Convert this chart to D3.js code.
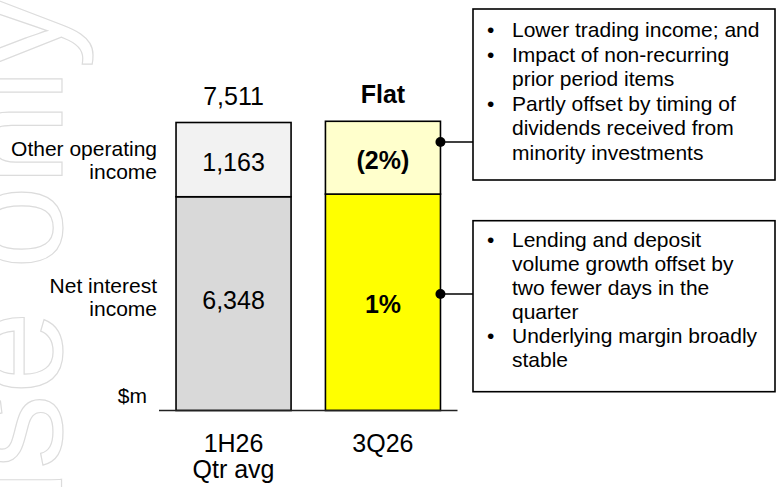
<!DOCTYPE html>
<html>
<head>
<meta charset="utf-8">
<script src="https://cdn.jsdelivr.net/npm/d3@7"></script>
<style>
  html, body { margin: 0; padding: 0; background: #fff; }
  svg text { font-family: "Liberation Sans", Arial, sans-serif; fill: #000; }
</style>
</head>
<body>
<div id="chart"></div>
<script>
// data
const categories = ['1H26', '3Q26'];
const categoryLines = [['1H26', 'Qtr avg'], ['3Q26']];
const seriesNames = [['Net interest', 'income'], ['Other operating', 'income']];
const niiValues = [6348, 6390];
const otherValues = [1163, 1140];
const niiLabels = ['6,348', '1%'];
const otherLabels = ['1,163', '(2%)'];
const totalLabels = ['7,511', 'Flat'];
const unitLabel = '$m';
const otherNotes = [
  ['Lower trading income; and'],
  ['Impact of non-recurring', 'prior period items'],
  ['Partly offset by timing of', 'dividends received from', 'minority investments'],
];
const niiNotes = [
  ['Lending and deposit', 'volume growth offset by', 'two fewer days in the', 'quarter'],
  ['Underlying margin broadly', 'stable'],
];

const W = 776;
const H = 487;
const colors = {
  nii: ['#d9d9d9', '#ffff00'],
  other: ['#f2f2f2', '#ffffcc'],
};

const svg = d3.select('#chart').append('svg')
  .attr('width', W)
  .attr('height', H);

// watermark (runs off the left edge on the slide too)
svg.append('text')
  .attr('transform', 'translate(62,-6) rotate(-90)')
  .attr('text-anchor', 'end')
  .style('font-size', '150px')
  .style('fill', '#fff')
  .style('stroke', '#dcdcdc')
  .style('stroke-width', 1.2)
  .text('use only');

const x = d3.scaleBand()
  .domain(categories)
  .range([159, 457.5])
  .paddingInner(0.23)
  .paddingOuter(0.114);

// axis is cut (does not start at zero), like the slide
const y = d3.scaleLinear()
  .domain([3000, 7511])
  .range([410.5, 122.5]);

const rows = categories.map((c, i) => ({
  cat: c,
  i,
  nii: niiValues[i],
  other: otherValues[i],
  total: niiValues[i] + otherValues[i],
}));

const g = svg.append('g');

// NII segment
g.selectAll('.nii')
  .data(rows)
  .enter().append('rect')
  .attr('class', 'nii')
  .attr('x', d => x(d.cat))
  .attr('width', x.bandwidth())
  .attr('y', d => y(d.nii))
  .attr('height', d => y(3000) - y(d.nii))
  .attr('fill', d => colors.nii[d.i])
  .attr('stroke', '#000')
  .attr('stroke-width', 1.6);

// other operating income segment
g.selectAll('.other')
  .data(rows)
  .enter().append('rect')
  .attr('class', 'other')
  .attr('x', d => x(d.cat))
  .attr('width', x.bandwidth())
  .attr('y', d => y(d.total))
  .attr('height', d => y(d.nii) - y(d.total))
  .attr('fill', d => colors.other[d.i])
  .attr('stroke', '#000')
  .attr('stroke-width', 1.6);

// base line
g.append('line')
  .attr('x1', x.range()[0])
  .attr('x2', x.range()[1])
  .attr('y1', y(3000))
  .attr('y2', y(3000))
  .attr('stroke', '#222')
  .attr('stroke-width', 1.6);

const cx = d => x(d.cat) + x.bandwidth() / 2;

// value labels
g.selectAll('.lab-other')
  .data(rows)
  .enter().append('text')
  .attr('x', cx)
  .attr('y', d => (y(d.total) + y(d.nii)) / 2 + 11)
  .attr('text-anchor', 'middle')
  .style('font-size', '25px')
  .style('font-weight', d => (d.i === 1 ? 'bold' : 'normal'))
  .text(d => otherLabels[d.i]);

g.selectAll('.lab-nii')
  .data(rows)
  .enter().append('text')
  .attr('x', cx)
  .attr('y', d => (y(d.nii) + y(3000)) / 2 + 5 + d.i * 6)
  .attr('text-anchor', 'middle')
  .style('font-size', '25px')
  .style('font-weight', d => (d.i === 1 ? 'bold' : 'normal'))
  .text(d => niiLabels[d.i]);

g.selectAll('.lab-total')
  .data(rows)
  .enter().append('text')
  .attr('x', cx)
  .attr('y', d => y(d.total) - 18)
  .attr('text-anchor', 'middle')
  .style('font-size', '25px')
  .style('font-weight', d => (d.i === 1 ? 'bold' : 'normal'))
  .text(d => totalLabels[d.i]);

// category labels
rows.forEach((d) => {
  categoryLines[d.i].forEach((t, k) => {
    g.append('text')
      .attr('x', cx(d))
      .attr('y', 452 + k * 26)
      .attr('text-anchor', 'middle')
      .style('font-size', '25px')
      .text(t);
  });
});

// series names on the left
const nameY = [y((3000 + niiValues[0]) / 2) - 11, y(niiValues[0] + otherValues[0] / 2) - 4];
seriesNames.forEach((lines, s) => {
  lines.forEach((t, k) => {
    g.append('text')
      .attr('x', 157)
      .attr('y', nameY[s] + k * 23.5)
      .attr('text-anchor', 'end')
      .style('font-size', '21px')
      .text(t);
  });
});

g.append('text')
  .attr('x', 147)
  .attr('y', 403)
  .attr('text-anchor', 'end')
  .style('font-size', '21px')
  .text(unitLabel);

// callouts
function callout(boxY, boxH, linkY, notes, firstBase, lh) {
  const bx = 473;
  const bw = 302;
  const right = x(categories[1]) + x.bandwidth();

  svg.append('line')
    .attr('x1', right).attr('x2', bx)
    .attr('y1', linkY).attr('y2', linkY)
    .attr('stroke', '#000').attr('stroke-width', 1.6);
  svg.append('circle')
    .attr('cx', right).attr('cy', linkY).attr('r', 5)
    .attr('fill', '#000');

  svg.append('rect')
    .attr('x', bx).attr('y', boxY)
    .attr('width', bw).attr('height', boxH)
    .attr('fill', '#fff')
    .attr('stroke', '#000').attr('stroke-width', 1.6);

  let line = 0;
  notes.forEach((bullet) => {
    bullet.forEach((t, k) => {
      const ty = firstBase + line * lh;
      if (k === 0) {
        svg.append('text')
          .attr('x', 487).attr('y', ty)
          .style('font-size', '21px')
          .text('•');
      }
      svg.append('text')
        .attr('x', 512).attr('y', ty)
        .style('font-size', '21px')
        .text(t);
      line += 1;
    });
  });
}

callout(9, 171, 142, otherNotes, 37, 24.5);
callout(220.7, 171, 294, niiNotes, 246.6, 24.1);
</script>
</body>
</html>
